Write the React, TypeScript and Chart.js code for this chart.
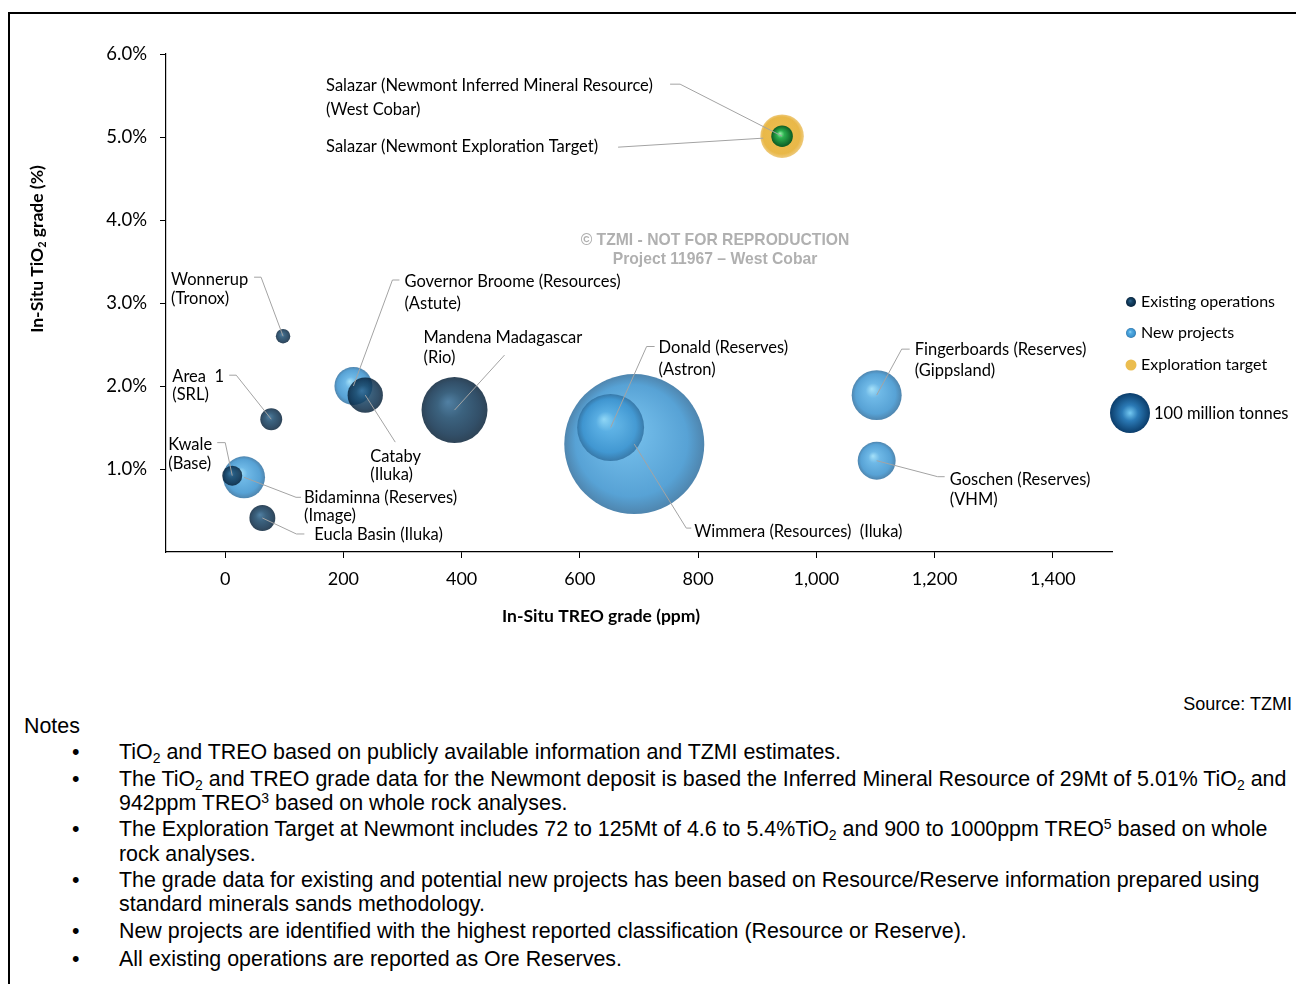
import React, { useEffect, useRef, useState } from "react";
import { Chart, registerables } from "chart.js";

Chart.register(...registerables);

// ---------- DATA ----------
const existingNames = ["Wonnerup", "Area 1", "Kwale", "Eucla Basin", "Cataby", "Mandena"];
const existingTreo = [98, 78, 12, 63, 237, 388];
const existingTio2 = [2.6, 1.6, 0.92, 0.41, 1.89, 1.71];
const existingTonnes = [13, 30, 25, 42, 78, 272];

const newNames = ["Governor Broome", "Bidaminna", "Wimmera", "Donald", "Fingerboards", "Goschen"];
const newTreo = [217, 32, 692, 652, 1102, 1102];
const newTio2 = [2.0, 0.9, 1.3, 1.5, 1.89, 1.1];
const newTonnes = [90, 110, 1225, 280, 156, 90];

const targetNames = ["Salazar (Newmont Exploration Target)"];
const targetTreo = [942];
const targetTio2 = [5.01];
const targetTonnes = [118];

const inferredNames = ["Salazar (Newmont Inferred Mineral Resource)"];
const inferredTreo = [942];
const inferredTio2 = [5.01];
const inferredTonnes = [29];

const xTickValues = [0, 200, 400, 600, 800, 1000, 1200, 1400];
const yTickValues = [1, 2, 3, 4, 5, 6];
const legendLabels = ["Existing operations", "New projects", "Exploration target"];
const legendBubbleTonnes = 100;
const legendBubbleLabel = "100 million tonnes";

// ---------- STYLE / LAYOUT ----------
const FONT = "Lato, 'Open Sans', sans-serif";
const radiusFor = (t: number) => 20 * Math.sqrt(t / 100);

type Stops = [number, string][];
const darkStops = (a: number): Stops => [
  [0, `rgba(48,104,146,${a})`],
  [0.4, `rgba(22,68,102,${a})`],
  [0.8, `rgba(11,46,76,${a})`],
  [1, `rgba(6,32,55,${a})`],
];
const lightStops = (a: number): Stops => [
  [0, `rgba(150,220,248,${a})`],
  [0.3, `rgba(85,172,226,${a})`],
  [0.8, `rgba(58,146,206,${a})`],
  [1, `rgba(48,112,160,${a})`],
];
const greenStops: Stops = [
  [0, "#9af5aa"],
  [0.35, "#2bb04f"],
  [1, "#0b5a23"],
];
const goldStops: Stops = [
  [0, "rgba(236,190,80,1)"],
  [0.85, "rgba(233,184,72,1)"],
  [1, "rgba(236,196,110,0.9)"],
];
const legendBigStops: Stops = [
  [0, "#74c9f2"],
  [0.4, "#2b7ab6"],
  [1, "#0b3d6b"],
];

function makeGradient(ctx: CanvasRenderingContext2D, cx: number, cy: number, r: number, stops: Stops, hx: number, hy: number) {
  const g = ctx.createRadialGradient(cx + r * hx, cy + r * hy, 0, cx, cy, r);
  stops.forEach(([o, c]) => g.addColorStop(o, c));
  return g;
}

function sphereFill(stops: Stops, flat: string) {
  return (c: any) => {
    try {
      if (c.type !== "data" || !c.raw) return flat;
      const chart = c.chart;
      const xs = chart.scales && chart.scales.x;
      const ys = chart.scales && chart.scales.y;
      if (!xs || !ys) return flat;
      const cx = xs.getPixelForValue(c.raw.x);
      const cy = ys.getPixelForValue(c.raw.y);
      const r = c.raw.r;
      if (!isFinite(cx) || !isFinite(cy) || !isFinite(r) || r <= 0) return flat;
      return makeGradient(chart.ctx, cx, cy, r, stops, -0.2, -0.25);
    } catch (e) {
      return flat;
    }
  };
}

function drawSphere(ctx: CanvasRenderingContext2D, cx: number, cy: number, r: number, stops: Stops, hx: number, hy: number) {
  ctx.beginPath();
  ctx.arc(cx, cy, r, 0, Math.PI * 2);
  ctx.fillStyle = makeGradient(ctx, cx, cy, r, stops, hx, hy);
  ctx.fill();
}

// label layout: offsets (px) relative to bubble centre
const labelLayout = [
  { ds: 1, i: 0, lines: ["Wonnerup", "(Tronox)"], tx: -112, ty: -57, lh: 19, path: [[0, 0], [-22, -59], [-29, -59]] },
  { ds: 1, i: 1, lines: ["Area  1", "(SRL)"], tx: -99, ty: -43, lh: 18, path: [[0, 0], [-35, -44], [-42, -44]] },
  { ds: 1, i: 2, lines: ["Kwale", "(Base)"], tx: -64, ty: -31, lh: 19, path: [[0, 0], [-7, -33], [-15, -33]] },
  { ds: 1, i: 3, lines: ["Eucla Basin (Iluka)"], tx: 52, ty: 17, lh: 18, path: [[0, 0], [34, 16], [42, 16]] },
  { ds: 1, i: 4, lines: ["Cataby", "(Iluka)"], tx: 5, ty: 62, lh: 18, path: [[0, 0], [30, 47]] },
  { ds: 1, i: 5, lines: ["Mandena Madagascar", "(Rio)"], tx: -31, ty: -72, lh: 20, path: [[0, 0], [50, -55]] },
  { ds: 2, i: 0, lines: ["Governor Broome (Resources)", "(Astute)"], tx: 51, ty: -104, lh: 22, path: [[0, 0], [39, -106], [46, -106]] },
  { ds: 2, i: 1, lines: ["Bidaminna (Reserves)", "(Image)"], tx: 60, ty: 20, lh: 18, path: [[0, 0], [52, 20], [57, 20]] },
  { ds: 2, i: 2, lines: ["Wimmera (Resources)  (Iluka)"], tx: 60, ty: 88, lh: 18, path: [[0, 0], [52, 84], [57, 84]] },
  { ds: 2, i: 3, lines: ["Donald (Reserves)", "(Astron)"], tx: 48, ty: -80, lh: 22, path: [[0, 0], [36, -81], [44, -81]] },
  { ds: 2, i: 4, lines: ["Fingerboards (Reserves)", "(Gippsland)"], tx: 38, ty: -45, lh: 21, path: [[0, 0], [25, -46], [33, -46]] },
  { ds: 2, i: 5, lines: ["Goschen (Reserves)", "(VHM)"], tx: 73, ty: 19, lh: 20, path: [[0, 0], [61, 16], [68, 16]] },
  { ds: 0, i: 0, lines: ["Salazar (Newmont Inferred Mineral Resource)", "(West Cobar)"], tx: -456, ty: -50, lh: 24, path: [[0, 0], [-102, -52], [-112, -52]] },
  { ds: 3, i: 0, lines: ["Salazar (Newmont Exploration Target)"], tx: -456, ty: 11, lh: 24, path: [[-19, 2], [-164, 11]] },
];

function drawRich(ctx: CanvasRenderingContext2D, segs: [string, string][], x: number, y: number, size: number, weight: string) {
  const big = `${weight} ${size}px ${FONT}`;
  const small = `${weight} ${Math.round(size * 0.65)}px ${FONT}`;
  let total = 0;
  segs.forEach(([t, k]) => {
    ctx.font = k === "sub" ? small : big;
    total += ctx.measureText(t).width;
  });
  let cx = x - total / 2;
  ctx.textAlign = "left";
  ctx.textBaseline = "middle";
  segs.forEach(([t, k]) => {
    ctx.font = k === "sub" ? small : big;
    ctx.fillText(t, cx, k === "sub" ? y + size * 0.3 : y);
    cx += ctx.measureText(t).width;
  });
}

const overlayPlugin = {
  id: "overlay",
  afterDatasetsDraw(chart: any) {
    const ctx: CanvasRenderingContext2D = chart.ctx;
    ctx.save();
    for (const L of labelLayout) {
      const meta = chart.getDatasetMeta(L.ds);
      const el = meta && meta.data[L.i];
      if (!el) continue;
      const cx = el.x;
      const cy = el.y;
      ctx.strokeStyle = "#a3a3a3";
      ctx.lineWidth = 1;
      ctx.beginPath();
      L.path.forEach((p: number[], k: number) => {
        if (k) ctx.lineTo(cx + p[0], cy + p[1]);
        else ctx.moveTo(cx + p[0], cy + p[1]);
      });
      ctx.stroke();
      ctx.fillStyle = "#000";
      ctx.font = `16.5px ${FONT}`;
      ctx.textBaseline = "middle";
      ctx.textAlign = "left";
      L.lines.forEach((t: string, k: number) => ctx.fillText(t, cx + L.tx, cy + L.ty + k * L.lh));
    }
    ctx.fillStyle = "#b0b0b0";
    ctx.font = "bold 15.7px 'Liberation Sans', Arial, sans-serif";
    ctx.textAlign = "center";
    ctx.textBaseline = "middle";
    ctx.fillText("© TZMI - NOT FOR REPRODUCTION", 715, 241);
    ctx.fillText("Project 11967 – West Cobar", 715, 260);

    ctx.fillStyle = "#000";
    ctx.save();
    ctx.translate(37, 249);
    ctx.rotate(-Math.PI / 2);
    drawRich(ctx, [["In-Situ TiO", "n"], ["2", "sub"], [" grade (%)", "n"]], 0, 0, 17.5, "bold");
    ctx.restore();
    drawRich(ctx, [["In-Situ TREO grade (ppm)", "n"]], 601, 616, 17.5, "bold");

    const lx = 1131;
    const ly = [302, 333, 365];
    drawSphere(ctx, lx, ly[0], 5, darkStops(1), -0.2, -0.25);
    drawSphere(ctx, lx, ly[1], 5, lightStops(1), -0.2, -0.25);
    ctx.beginPath();
    ctx.arc(lx, ly[2], 5.5, 0, Math.PI * 2);
    ctx.fillStyle = "#ebbd4f";
    ctx.fill();
    ctx.fillStyle = "#000";
    ctx.font = `16px ${FONT}`;
    ctx.textAlign = "left";
    ctx.textBaseline = "middle";
    legendLabels.forEach((t, k) => ctx.fillText(t, 1141, ly[k]));
    const br = radiusFor(legendBubbleTonnes);
    drawSphere(ctx, 1130, 413, br, legendBigStops, 0, 0);
    ctx.fillStyle = "#000";
    ctx.font = `16.5px ${FONT}`;
    ctx.fillText(legendBubbleLabel, 1154, 414);
    ctx.restore();
  },
};

function points(xs: number[], ys: number[], ts: number[]) {
  return xs.map((x, k) => ({ x, y: ys[k], r: radiusFor(ts[k]) }));
}

export default function App() {
  const ref = useRef<HTMLCanvasElement>(null);
  const [err, setErr] = useState("");
  useEffect(() => {
    let chart: any = null;
    try {
      chart = new Chart(ref.current!, {
        type: "bubble",
        data: {
          datasets: [
            { label: inferredNames[0], data: points(inferredTreo, inferredTio2, inferredTonnes), backgroundColor: sphereFill(greenStops, "#1f9a45"), borderWidth: 0, clip: false },
            { label: legendLabels[0], data: points(existingTreo, existingTio2, existingTonnes), backgroundColor: sphereFill(darkStops(0.84), "#12405f"), borderWidth: 0, clip: false },
            { label: legendLabels[1], data: points(newTreo, newTio2, newTonnes), backgroundColor: sphereFill(lightStops(0.85), "#3f9bd6"), borderWidth: 0, clip: false },
            { label: targetNames[0], data: points(targetTreo, targetTio2, targetTonnes), backgroundColor: sphereFill(goldStops, "#e9b848"), borderWidth: 0, clip: false },
          ],
        },
        options: {
          responsive: false,
          animation: false,
          events: [],
          layout: { autoPadding: false, padding: { top: 54, right: 192, bottom: 0, left: 0 } },
          plugins: { legend: { display: false }, tooltip: { enabled: false } },
          scales: {
            x: {
              type: "linear",
              min: -100,
              max: 1500,
              afterBuildTicks: (s: any) => {
                s.ticks = xTickValues.map((v) => ({ value: v }));
              },
              afterFit: (s: any) => {
                s.height = 108;
              },
              grid: { drawOnChartArea: false, tickLength: 6, color: "#000", tickWidth: 1 },
              border: { display: true, color: "#000", width: 1.2 },
              ticks: {
                color: "#000",
                padding: 10,
                font: { family: FONT, size: 18 },
                maxRotation: 0,
                callback: (v: any) => Number(v).toLocaleString("en-US"),
              },
            },
            y: {
              type: "linear",
              min: 0,
              max: 6,
              afterBuildTicks: (s: any) => {
                s.ticks = yTickValues.map((v) => ({ value: v }));
              },
              afterFit: (s: any) => {
                s.width = 166;
              },
              grid: { drawOnChartArea: false, tickLength: 6, color: "#000", tickWidth: 1 },
              border: { display: true, color: "#000", width: 1.2 },
              ticks: {
                color: "#000",
                padding: 13,
                font: { family: FONT, size: 18.5 },
                callback: (v: any) => `${Number(v).toFixed(1)}%`,
              },
            },
          },
        },
        plugins: [overlayPlugin],
      } as any);
    } catch (e: any) {
      setErr(String(e && e.stack ? e.stack : e));
    }
    return () => {
      if (chart) chart.destroy();
    };
  }, []);

  const noteFont = "'Liberation Sans', Arial, sans-serif";
  const lineStyle = (top: number, left: number): React.CSSProperties => ({
    position: "absolute",
    left,
    top: top - 12,
    height: 24,
    lineHeight: "24px",
    fontSize: 21.4,
    fontFamily: noteFont,
    color: "#000",
    whiteSpace: "nowrap",
  });
  const sub: React.CSSProperties = { fontSize: 14, verticalAlign: "-4px", lineHeight: 0 };
  const sup: React.CSSProperties = { fontSize: 14, verticalAlign: "7px", lineHeight: 0 };
  const bullets = [752, 779, 829, 880, 931, 959];

  return (
    <div style={{ position: "relative", width: 1304, height: 984, marginLeft: -8, marginTop: -8, overflow: "hidden", background: "#fff" }}>
      <div style={{ position: "absolute", left: 8, top: 12, width: 1296, height: 2, background: "#000" }} />
      <div style={{ position: "absolute", left: 8, top: 12, width: 2, height: 980, background: "#000" }} />
      <canvas ref={ref} width={1304} height={660} style={{ position: "absolute", left: 0, top: 0, width: 1304, height: 660 }} />
      {err ? <div style={{ position: "absolute", left: 20, top: 20, color: "red", fontSize: 12, whiteSpace: "pre-wrap", width: 1200 }}>{err}</div> : null}
      <div style={{ ...lineStyle(704, 0), left: "auto", right: 12, fontSize: 18 }}>Source: TZMI</div>
      <div style={lineStyle(726, 24)}>Notes</div>
      {bullets.map((b) => (
        <div key={b} style={lineStyle(b, 72)}>•</div>
      ))}
      <div style={lineStyle(752, 119)}>
        TiO<span style={sub}>2</span> and TREO based on publicly available information and TZMI estimates.
      </div>
      <div style={lineStyle(779, 119)}>
        The TiO<span style={sub}>2</span> and TREO grade data for the Newmont deposit is based the Inferred Mineral Resource of 29Mt of 5.01% TiO<span style={sub}>2</span> and
      </div>
      <div style={lineStyle(803, 119)}>
        942ppm TREO<span style={sup}>3</span> based on whole rock analyses.
      </div>
      <div style={lineStyle(829, 119)}>
        The Exploration Target at Newmont includes 72 to 125Mt of 4.6 to 5.4%TiO<span style={sub}>2</span> and 900 to 1000ppm TREO<span style={sup}>5</span> based on whole
      </div>
      <div style={lineStyle(854, 119)}>rock analyses.</div>
      <div style={lineStyle(880, 119)}>
        The grade data for existing and potential new projects has been based on Resource/Reserve information prepared using
      </div>
      <div style={lineStyle(904, 119)}>standard minerals sands methodology.</div>
      <div style={lineStyle(931, 119)}>New projects are identified with the highest reported classification (Resource or Reserve).</div>
      <div style={lineStyle(959, 119)}>All existing operations are reported as Ore Reserves.</div>
    </div>
  );
}
